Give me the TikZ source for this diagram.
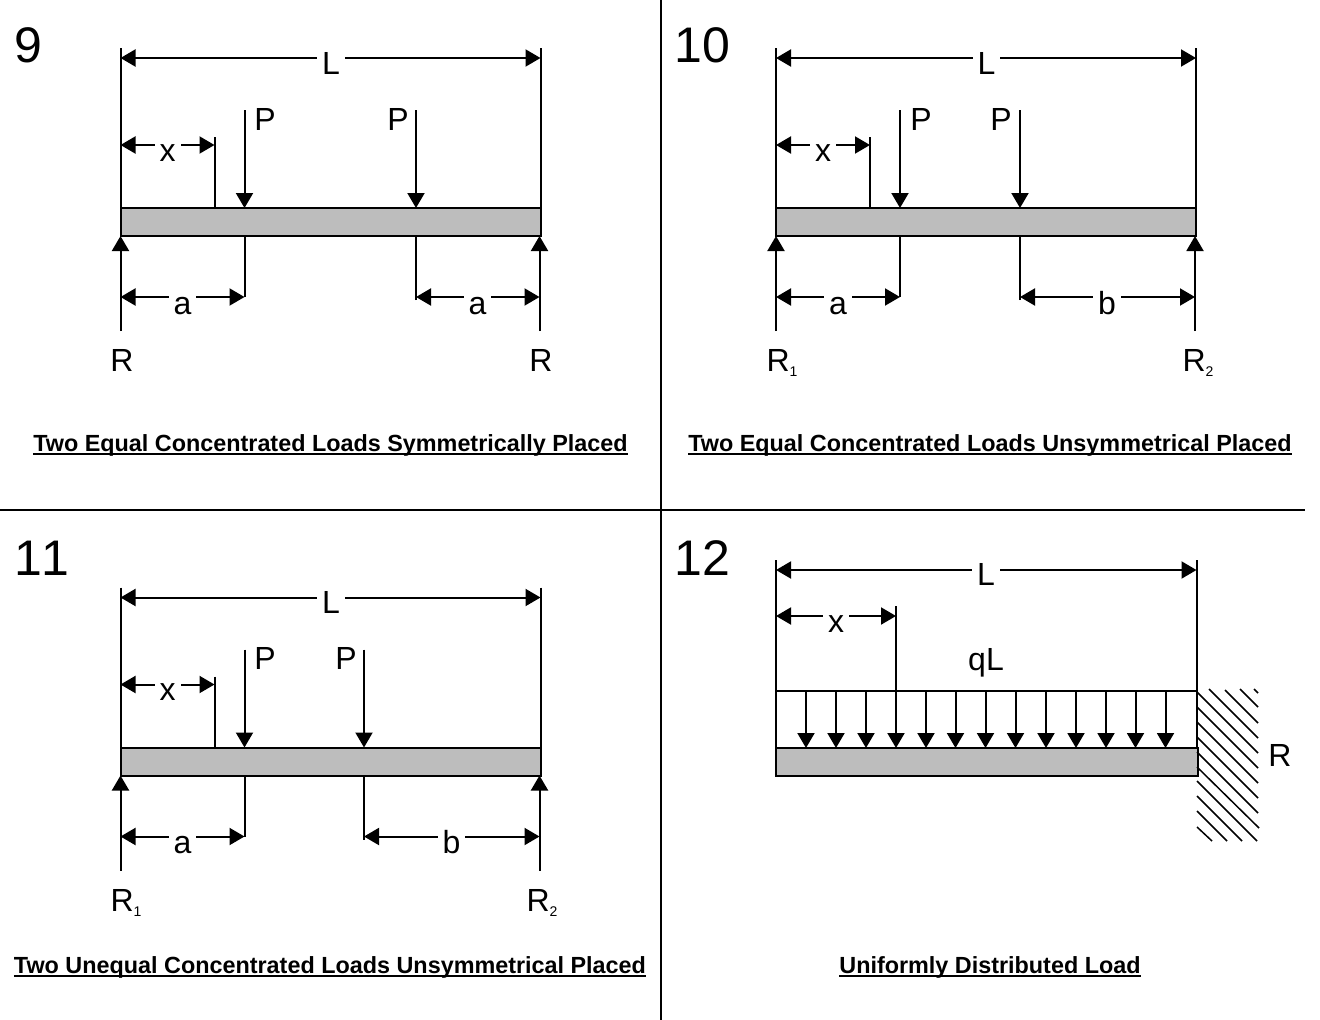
\documentclass[tikz,border=0pt]{standalone}
\usepackage{fontspec}
\setmainfont{Liberation Sans}
\usetikzlibrary{arrows.meta}
\newcommand{\lblfont}{\fontsize{32}{32}\selectfont}
\newcommand{\subfont}[1]{\raisebox{-5pt}{\fontsize{14}{14}\selectfont #1}}
\newcommand{\ttlul}[1]{\vtop{\hbox{#1}\kern-3.2pt\hrule height 2pt}}
\tikzset{
  x=1pt,y=-1pt,
  ln/.style={line width=2pt,draw=black},
  tip/.style={ln,-{Triangle[length=15pt,width=17pt]}},
  dimln/.style={ln,{Triangle[length=15pt,width=17pt]}-{Triangle[length=15pt,width=17pt]},shorten <=0pt,shorten >=0pt},
  beam/.style={ln,fill=black!26,minimum height=28pt,inner sep=0pt,outer sep=0pt,anchor=north west},
  lbl/.style={font=\lblfont,anchor=base,inner sep=0pt},
  dimlbl/.style={lbl,fill=white,inner xsep=5pt,inner ysep=1pt},
  num/.style={font=\fontsize{50}{50}\selectfont\addfontfeatures{Kerning=Off},anchor=base,inner sep=0pt},
  ttl/.style={font=\fontsize{23.37}{24}\selectfont\bfseries,anchor=base,inner sep=0pt},
  hatch/.style={line width=1.5pt,draw=black},
  frameline/.style={line width=2pt,draw=black},
}
% #1 id, #2 dx, #3 dy, #4 second load x, #5 first P label x, #6 second P label x
% #7 right dim label, #8 right dim label x, #9 reaction labels
\newcommand{\beampanel}[9]{%
\begin{scope}[shift={(#2,#3)}]
  \node[beam,minimum width=420pt] (#1b) at (120.5,208) {};
  \coordinate (#1tl) at (120.5,48);
  \coordinate (#1tr) at (540.5,48);
  \coordinate (#1dl) at (120.5,58);
  \coordinate (#1dr) at (540.5,58);
  \coordinate (#1xa) at (120.5,145);
  \coordinate (#1xb) at (214.5,145);
  \coordinate (#1xt) at (214.5,137);
  \coordinate (#1pa) at (244.5,110);
  \coordinate (#1pb) at (#4,110);
  \coordinate (#1ra) at (120.5,331);
  \coordinate (#1rb) at (539.5,331);
  \coordinate (#1aa) at (120.5,297);
  \coordinate (#1ab) at (244.5,297);
  \coordinate (#1ca) at (#4,297);
  \coordinate (#1cb) at (539.5,297);
  \coordinate (#1ae) at (244.5,297);
  \coordinate (#1ce) at (#4,300);
  % extension lines
  \draw[ln] (#1tl) -- (#1tl |- #1b.north);
  \draw[ln] (#1tr) -- (#1tr |- #1b.north);
  \draw[ln] (#1xt) -- (#1xt |- #1b.north);
  \draw[ln] (#1ae) -- (#1ae |- #1b.south);
  \draw[ln] (#1ce) -- (#1ce |- #1b.south);
  % loads and reactions
  \draw[tip] (#1pa) -- (#1pa |- #1b.north);
  \draw[tip] (#1pb) -- (#1pb |- #1b.north);
  \draw[tip] (#1ra) -- (#1ra |- #1b.south);
  \draw[tip] (#1rb) -- (#1rb |- #1b.south);
  % dimensions
  \draw[dimln] (#1dl) -- (#1dr);
  \draw[dimln] (#1xa) -- (#1xb);
  \draw[dimln] (#1aa) -- (#1ab);
  \draw[dimln] (#1ca) -- (#1cb);
  \node[dimlbl] (#1lL) at (331,74) {L};
  \node[dimlbl] (#1lx) at (167.5,161) {x};
  \node[dimlbl] (#1la) at (182.5,314) {a};
  \node[dimlbl] (#1lc) at (#8,314) {#7};
  \node[lbl] (#1lp) at (#5,130) {P};
  \node[lbl] (#1lq) at (#6,130) {P};
  #9
\end{scope}}

\begin{document}
\begin{tikzpicture}
\useasboundingbox (0,0) rectangle (1320,1020);
\fill[white] (0,0) rectangle (1320,1020);
\coordinate (vt) at (660.5,0);
\coordinate (vb) at (660.5,1020);
\coordinate (hl) at (0,509.5);
\coordinate (hr) at (1305,509.5);
\draw[frameline] (vt) -- (vb);
\draw[frameline] (hl) -- (hr);

\node[num] (n9) at (28,62) {9};
\node[num] (n10) at (702.5,62) {10};
\node[num] (n11) at (42,575) {11};
\node[num] (n12) at (702.5,575) {12};

\beampanel{a}{0}{0}{416}{265}{398}{a}{477.5}{%
  \node[lbl] (aR1) at (122,371.5) {R};
  \node[lbl] (aR2) at (541,371.5) {R};}
\beampanel{c}{655.5}{0}{364.5}{265.5}{345.5}{b}{451.5}{%
  \node[lbl] (cR1) at (126.5,371.5) {R\subfont{1}};
  \node[lbl] (cR2) at (542.5,371.5) {R\subfont{2}};}
\beampanel{e}{0}{539.5}{364}{265}{346}{b}{451.5}{%
  \node[lbl] (eR1) at (126,371.5) {R\subfont{1}};
  \node[lbl] (eR2) at (542,371.5) {R\subfont{2}};}

\node[ttl] (t9) at (330.5,451.5) {\ttlul{Two Equal Concentrated Loads Symmetrically Placed}};
\node[ttl] (t10) at (990,451.5) {\ttlul{Two Equal Concentrated Loads Unsymmetrical Placed}};
\node[ttl] (t11) at (330,973.5) {\ttlul{Two Unequal Concentrated Loads Unsymmetrical Placed}};
\node[ttl] (t12) at (990,973.5) {\ttlul{Uniformly Distributed Load}};

% Panel 12
\node[beam,minimum width=422pt] (gb) at (776,748) {};
\coordinate (gtl) at (776,560);
\coordinate (gtr) at (1196.5,560);
\coordinate (gdl) at (776,570);
\coordinate (gdr) at (1196.5,570);
\coordinate (gxa) at (776,616);
\coordinate (gxb) at (896,616);
\coordinate (gxt) at (896,606);
\coordinate (gql) at (776,691);
\coordinate (gqr) at (1196.5,691);
\draw[ln] (gtl) -- (gtl |- gb.north);
\draw[ln] (gtr) -- (gtr |- gb.north);
\draw[ln] (gql) -- (gqr);
\draw[ln] (gxt) -- (gxt |- gql);
\foreach \i/\xx in {1/806,2/836,3/866,4/896,5/926,6/955.5,7/985.5,8/1015.5,9/1046,10/1076,11/1106,12/1135.5,13/1165.5}{
  \coordinate (gq\i) at (\xx,691);
  \draw[tip] (gq\i) -- (gq\i |- gb.north);
}
\draw[dimln] (gdl) -- (gdr);
\draw[dimln] (gxa) -- (gxb);
\node[dimlbl] (gL) at (986,585.5) {L};
\node[dimlbl] (gx) at (836,632) {x};
\node[lbl] (gqL) at (986,670.5) {qL};
\node[lbl] (gR) at (1280,766) {R};

% wall hatching
\foreach \ax/\ay/\bx/\by in {
 1254/689/1258/693, 1240/689/1258/707, 1225/690/1258/723, 1209/689/1258/738,
 1197/692/1258/753, 1197/707/1258/768, 1197/722/1258/783, 1197/737/1258/798,
 1197/752/1258/813, 1197/767/1259/828, 1197/781/1257/841, 1197/796/1242/841,
 1197/811/1227/841, 1197/827/1212/841}{
  \draw[hatch] (\ax,\ay) -- (\bx,\by);
}
\end{tikzpicture}
\end{document}
